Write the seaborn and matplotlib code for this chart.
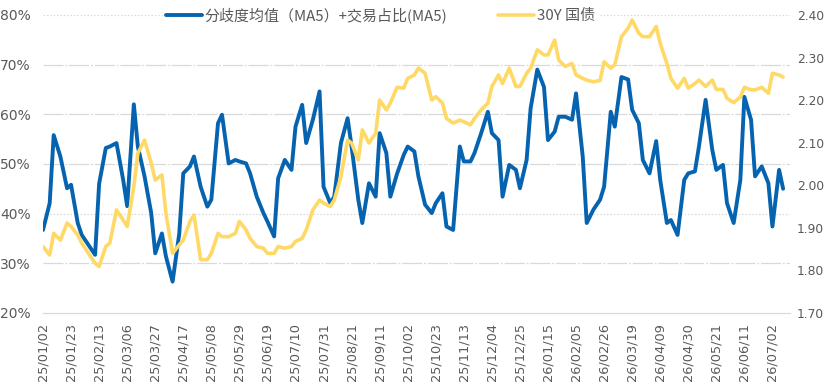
import pandas as pd
import seaborn as sns
import matplotlib.pyplot as plt

# one reading every 3 trading days, starting 2025-01-02
start = '2025-01-02'
n_days = 397
step = 3

# 分歧度均值(MA5)+交易占比(MA5), in %
divergence = [
    36.7, 42.1, 55.8, 51.5, 45.1, 45.8, 38.1, 35.7, 33.7, 31.7,
    46.0, 53.2, 53.5, 54.2, 46.8, 41.5, 62.0, 53.5, 47.5, 40.1,
    32.0, 36.0, 31.4, 26.3, 36.0, 48.1, 49.5, 51.5, 45.4, 41.4,
    42.8, 58.2, 59.9, 50.1, 50.8, 50.5, 50.1, 48.1, 43.4, 40.1,
    38.4, 35.4, 47.1, 50.8, 48.8, 57.5, 61.9, 54.2, 58.9, 64.6,
    45.4, 42.1, 43.4, 54.2, 59.2, 53.5, 42.8, 38.1, 46.1, 43.4,
    56.2, 52.2, 43.4, 48.0, 51.8, 53.5, 52.5, 47.5, 41.8, 40.1,
    42.1, 44.1, 37.4, 36.7, 53.5, 50.5, 50.5, 52.2, 56.2, 60.5,
    56.2, 54.8, 43.4, 49.8, 48.8, 45.1, 50.8, 61.2, 69.0, 65.5,
    54.8, 56.5, 59.5, 59.5, 58.9, 64.2, 51.5, 38.1, 40.8, 42.8,
    45.4, 60.5, 57.5, 67.5, 67.0, 60.9, 58.2, 50.8, 48.1, 54.6,
    46.8, 38.1, 38.7, 35.7, 46.8, 48.1, 48.5, 53.5, 62.9, 52.8,
    48.8, 49.8, 42.1, 38.1, 46.8, 63.5, 58.9, 47.5, 49.5, 46.1,
    37.4, 48.8, 45.0,
]

# 30Y government bond yield
yield_30y = [
    1.856, 1.836, 1.887, 1.871, 1.911, 1.903, 1.883, 1.864, 1.840, 1.817,
    1.809, 1.856, 1.864, 1.942, 1.918, 1.903, 1.997, 2.075, 2.106, 2.052,
    2.012, 2.024, 1.934, 1.840, 1.860, 1.871, 1.915, 1.930, 1.825, 1.825,
    1.840, 1.887, 1.879, 1.879, 1.887, 1.915, 1.895, 1.875, 1.856, 1.852,
    1.840, 1.840, 1.856, 1.852, 1.856, 1.868, 1.875, 1.895, 1.942, 1.965,
    1.958, 1.950, 1.965, 2.020, 2.106, 2.099, 2.059, 2.130, 2.099, 2.122,
    2.200, 2.177, 2.193, 2.230, 2.228, 2.251, 2.259, 2.275, 2.263, 2.200,
    2.208, 2.193, 2.157, 2.146, 2.153, 2.149, 2.142, 2.157, 2.177, 2.193,
    2.232, 2.259, 2.239, 2.275, 2.232, 2.232, 2.263, 2.275, 2.318, 2.306,
    2.306, 2.341, 2.294, 2.279, 2.286, 2.259, 2.251, 2.247, 2.243, 2.246,
    2.290, 2.275, 2.283, 2.349, 2.369, 2.388, 2.357, 2.349, 2.349, 2.373,
    2.333, 2.286, 2.251, 2.228, 2.251, 2.228, 2.239, 2.247, 2.232, 2.247,
    2.225, 2.225, 2.204, 2.194, 2.207, 2.230, 2.224, 2.224, 2.230, 2.216,
    2.263, 2.259, 2.254,
]

left_ticks = [20, 30, 40, 50, 60, 70, 80]
right_ticks = [1.70, 1.80, 1.90, 2.00, 2.10, 2.20, 2.30, 2.40]
name_blue = '分歧度均值（MA5）+交易占比(MA5)'
name_yellow = '30Y 国债'

all_days = pd.bdate_range(start, periods=n_days)
df = pd.DataFrame({'date': all_days[::step], 'div': divergence, 'y30': yield_30y})
tick_dates = all_days[::15]

sns.set_style('white')
plt.rcParams['font.family'] = ['DejaVu Sans', 'Noto Sans CJK SC']
grey = '#595959'

fig, ax1 = plt.subplots(figsize=(8.27, 3.83), dpi=100)
fig.subplots_adjust(left=0.052, right=0.955, top=0.961, bottom=0.183)
ax2 = ax1.twinx()

sns.lineplot(data=df, x='date', y='div', ax=ax1, color='#0563AF', lw=2.8,
             label=name_blue, legend=False)
sns.lineplot(data=df, x='date', y='y30', ax=ax2, color='#FFD966', lw=2.6,
             label=name_yellow, legend=False)

ax1.set_ylim(20, 80)
ax2.set_ylim(1.70, 2.40)
ax1.set_yticks(left_ticks)
ax1.set_yticklabels([f'{t}%' for t in left_ticks])
ax2.set_yticks(right_ticks)
ax2.set_yticklabels([f'{t:.2f}' for t in right_ticks])

ax1.set_xlim(all_days[0], all_days[0] + pd.offsets.BDay(399))
ax1.set_xticks(tick_dates)
ax1.set_xticklabels([d.strftime('%y/%m/%d') for d in tick_dates], rotation=90)

# gridlines (dash-dot, 40% and 80% dotted like the original)
for t in left_ticks[1:]:
    ls = (0, (1.2, 1.5)) if t in (40, 80) else (0, (16, 1.5, 1.5, 1.5))
    ax1.axhline(t, color='#d9d9d9', lw=0.9, ls=ls, zorder=0)

for ax in (ax1, ax2):
    ax.set_xlabel('')
    ax.set_ylabel('')
    for s in ('top', 'left', 'right'):
        ax.spines[s].set_visible(False)
    ax.spines['bottom'].set_color('#d9d9d9')

ax1.tick_params(axis='y', length=0, labelsize=10, labelcolor=grey, pad=9)
ax2.tick_params(axis='y', length=0, labelsize=8.8, labelcolor=grey, pad=5)
ax1.tick_params(axis='x', length=4, color='#bfbfbf', labelsize=9.3,
                labelcolor=grey, pad=3)

h1, l1 = ax1.get_legend_handles_labels()
h2, l2 = ax2.get_legend_handles_labels()
leg = ax2.legend(h1 + h2, l1 + l2, loc='center', bbox_to_anchor=(0.452, 1.0),
                 ncol=2, frameon=True, framealpha=1, edgecolor='white',
                 handlelength=2.4, handletextpad=0.15, columnspacing=3.4,
                 borderpad=0.2, prop={'family': ['Noto Sans CJK SC', 'DejaVu Sans'], 'size': 10.8})
for txt in leg.get_texts():
    txt.set_color(grey)

fig.savefig('out.png', dpi=100)
